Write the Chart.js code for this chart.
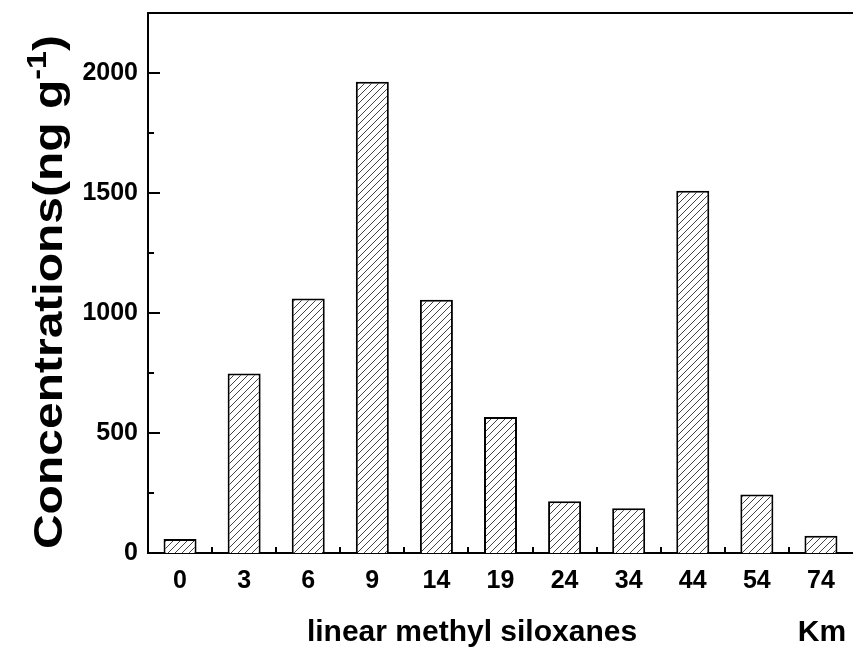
<!DOCTYPE html>
<html>
<head>
<meta charset="utf-8">
<script src="https://cdn.jsdelivr.net/npm/chart.js@4.4.1/dist/chart.umd.min.js"></script>
<style>
html, body { margin:0; padding:0; background:#fff; }
</style>
</head>
<body>
<canvas id="lmsChart" width="853" height="650"></canvas>
<script>
// values
const distances = ['0', '3', '6', '9', '14', '19', '24', '34', '44', '54', '74'];
const concentrations = [58, 748, 1060, 1964, 1055, 567, 216, 186, 1509, 244, 72];
const yTicks = [0, 500, 1000, 1500, 2000];
const yMinor = [250, 750, 1250, 1750];
const yMax = 2250;
const xTitle = 'linear methyl siloxanes';
const xUnit = 'Km';
const yTitle = 'Concentrations(ng g';
const yTitleSup = '-1';

const FONT = '"Liberation Sans", Arial, sans-serif';

document.addEventListener('DOMContentLoaded', init, false);

function init() {
	let ctx = document.querySelector('#lmsChart').getContext('2d');

	// hatch fill "////" like the origin plot
	let tile = document.createElement('canvas');
	let s = 7;
	tile.width = s; tile.height = s;
	let g = tile.getContext('2d');
	g.fillStyle = '#fff';
	g.fillRect(0, 0, s, s);
	g.strokeStyle = '#444';
	g.lineWidth = 1;
	g.beginPath();
	g.moveTo(-1, s + 1); g.lineTo(s + 1, -1);
	g.moveTo(-2, 2); g.lineTo(2, -2);
	g.moveTo(s - 2, s + 2); g.lineTo(s + 2, s - 2);
	g.stroke();
	let hatch = ctx.createPattern(tile, 'repeat');

	// inward ticks, top frame line and axis titles
	let decorations = {
		id: 'decorations',
		afterDraw(chart) {
			let c = chart.ctx;
			let area = chart.chartArea;
			let x = chart.scales.x;
			let y = chart.scales.y;
			c.save();
			c.strokeStyle = '#000';
			c.lineWidth = 2;
			c.beginPath();
			c.moveTo(area.left - 1, area.top);
			c.lineTo(area.right, area.top);
			yTicks.forEach(v => {
				let py = Math.round(y.getPixelForValue(v));
				c.moveTo(area.left, py);
				c.lineTo(area.left + 12, py);
			});
			yMinor.forEach(v => {
				let py = Math.round(y.getPixelForValue(v));
				c.moveTo(area.left, py);
				c.lineTo(area.left + 6, py);
			});
			for (let i = 0; i < distances.length - 1; i++) {
				let px = Math.round((x.getPixelForValue(i) + x.getPixelForValue(i + 1)) / 2);
				c.moveTo(px, area.bottom);
				c.lineTo(px, area.bottom - 6);
			}
			c.stroke();

			c.fillStyle = '#000';
			// x title + unit
			c.font = 'bold 30px ' + FONT;
			c.textAlign = 'center';
			c.textBaseline = 'alphabetic';
			c.fillText(xTitle, 472, 641);
			c.fillText(xUnit, 822, 641);

			// y title with superscript, rotated (text in the figure is a bit stretched)
			let big = 'bold 40px ' + FONT;
			let small = 'bold 27px ' + FONT;
			c.font = big;
			let w1 = c.measureText(yTitle).width;
			let w3 = c.measureText(')').width;
			c.font = small;
			let w2 = c.measureText(yTitleSup).width;
			let total = w1 + w2 + w3;
			c.translate(62, 292);
			c.rotate(-Math.PI / 2);
			c.scale(1.2, 1);
			c.textAlign = 'left';
			let x0 = -total / 2;
			c.font = big;
			c.fillText(yTitle, x0, 0);
			c.font = small;
			c.fillText(yTitleSup, x0 + w1, -16);
			c.font = big;
			c.fillText(')', x0 + w1 + w2, 0);
			c.restore();
		}
	};

	new Chart(ctx, {
		type: 'bar',
		data: {
			labels: distances,
			datasets: [{
				data: concentrations,
				backgroundColor: hatch,
				borderColor: '#000',
				borderWidth: 2,
				categoryPercentage: 1,
				barPercentage: 0.515
			}]
		},
		options: {
			responsive: false,
			animation: false,
			layout: { padding: { top: 13, right: 0, left: 0, bottom: 0 } },
			plugins: { legend: { display: false }, tooltip: { enabled: false } },
			scales: {
				x: {
					grid: { display: false, drawTicks: false },
					border: { color: '#000', width: 2 },
					ticks: { color: '#000', padding: 13, font: { family: FONT, weight: 'bold', size: 25 } },
					afterFit: scale => { scale.height = 97; }
				},
				y: {
					min: 0,
					max: yMax,
					grid: { display: false, drawTicks: false },
					border: { color: '#000', width: 2 },
					afterBuildTicks: scale => { scale.ticks = yTicks.map(v => ({ value: v })); },
					ticks: {
						color: '#000',
						padding: 10,
						font: { family: FONT, weight: 'bold', size: 25 },
						callback: v => String(v)
					},
					afterFit: scale => {
						scale.width = 148;
						scale.paddingTop = 0;
						scale.paddingBottom = 0;
					}
				}
			}
		},
		plugins: [decorations]
	});
}
</script>
</body>
</html>
